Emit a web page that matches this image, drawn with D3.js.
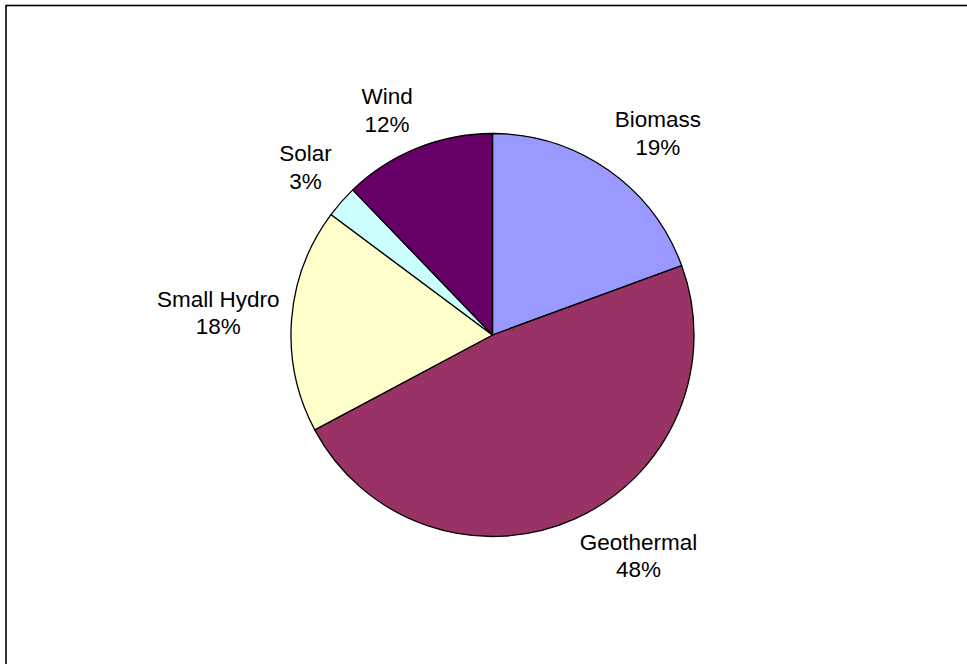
<!DOCTYPE html>
<html>
<head>
<meta charset="utf-8">
<script src="https://cdnjs.cloudflare.com/ajax/libs/d3/7.8.5/d3.min.js"></script>
<style>
	html, body { margin: 0; padding: 0; background: #fff; }
	svg { display: block; }
</style>
</head>
<body>
<div id="chart"></div>
<script>
// data (percent of total)
var categories = ['Biomass', 'Geothermal', 'Small Hydro', 'Solar', 'Wind']
var values = [19.4, 47.8, 18.0, 2.6, 12.2]
var colours = ['#9999FF', '#993366', '#FFFFCC', '#CCFFFF', '#660066']

var width = 967,
	height = 664,
	cx = 492.5,
	cy = 335,
	radius = 201.5,
	label_gap = 12,
	font_size = 22.5,
	line_step = 27.5

var total = d3.sum(values)
var slices = categories.map(function(c, i) {
	return {name: c, value: values[i], colour: colours[i]}
})

var svg = d3.select('#chart').append('svg')
	.attr('width', width)
	.attr('height', height)

// chart area border (right and bottom edges run off the page)
svg.append('rect')
	.attr('x', 6)
	.attr('y', 5.5)
	.attr('width', width + 20)
	.attr('height', height + 20)
	.attr('fill', 'none')
	.attr('stroke', '#000')
	.attr('stroke-width', 1.6)

var pie = d3.pie()
	.value(function(d) { return d.value })
	.sort(null)

var arc = d3.arc()
	.innerRadius(0)
	.outerRadius(radius)

var g = svg.append('g')
	.attr('transform', 'translate(' + cx + ',' + cy + ')')

var arcs = pie(slices)

g.selectAll('path.slice')
	.data(arcs)
	.enter().append('path')
	.attr('class', 'slice')
	.attr('d', arc)
	.attr('fill', function(d) { return d.data.colour })
	.attr('stroke', '#000')
	.attr('stroke-width', 1.3)
	.attr('stroke-linejoin', 'round')

// labels sit outside the pie, the box touching a point on the mid angle
var clamp = function(v) { return Math.max(-1, Math.min(1, v)) }

var labels = g.selectAll('text.label')
	.data(arcs)
	.enter().append('text')
	.attr('class', 'label')
	.attr('text-anchor', 'middle')
	.style('font-family', '"Liberation Sans", Arial, sans-serif')
	.style('font-size', font_size + 'px')
	.attr('fill', '#000')

labels.append('tspan')
	.attr('x', 0)
	.attr('y', 0)
	.text(function(d) { return d.data.name })

labels.append('tspan')
	.attr('x', 0)
	.attr('y', line_step)
	.text(function(d) { return Math.round(d.data.value / total * 100) + '%' })

labels.each(function(d) {
	var box = this.getBBox(),
		a = (d.startAngle + d.endAngle) / 2,
		r = radius + label_gap,
		px = Math.sin(a) * r,
		py = -Math.cos(a) * r,
		sx = clamp(Math.sin(a) * 3),
		sy = clamp(-Math.cos(a) * 3),
		bx = px + sx * box.width / 2,
		by = py + sy * box.height / 2,
		ox = box.x + box.width / 2,
		oy = box.y + box.height / 2
	d3.select(this).attr('transform', 'translate(' + (bx - ox) + ',' + (by - oy) + ')')
})
</script>
</body>
</html>
